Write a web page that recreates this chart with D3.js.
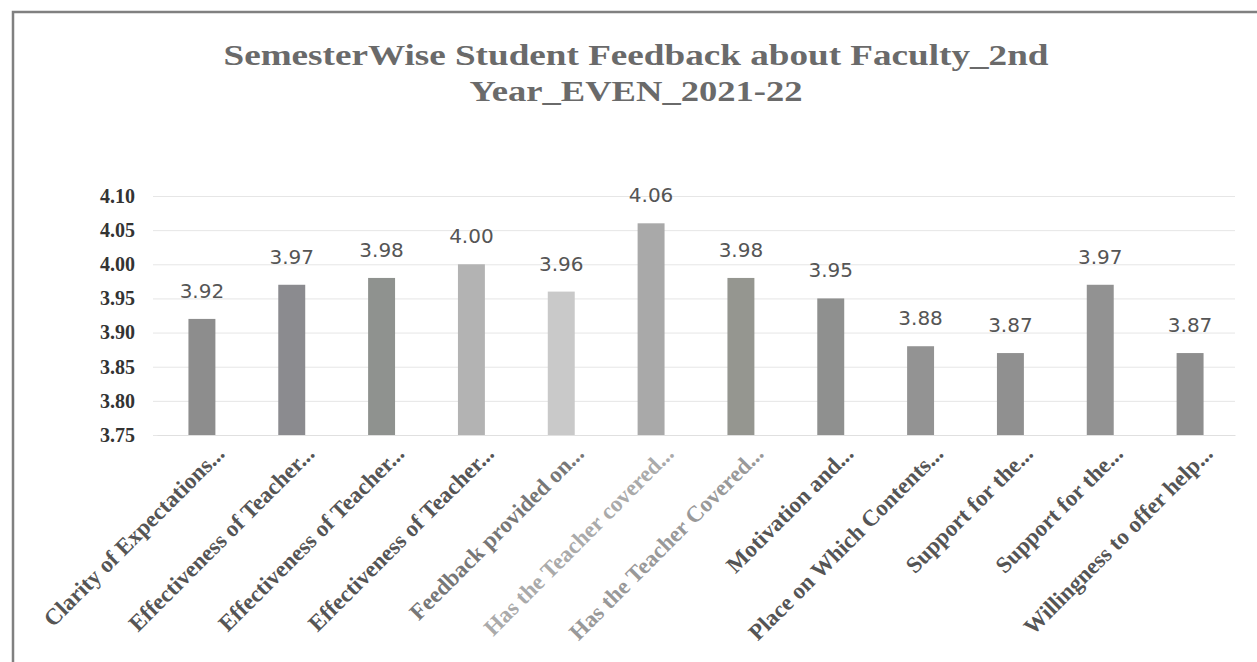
<!DOCTYPE html>
<html>
<head>
<meta charset="utf-8">
<script src="https://cdn.jsdelivr.net/npm/d3@7"></script>
<style>
  body { margin: 0; background: #fff; }
</style>
</head>
<body>
<svg></svg>
<script>
const categories = [
    "Clarity of Expectations...",
    "Effectiveness of Teacher...",
    "Effectiveness of Teacher...",
    "Effectiveness of Teacher...",
    "Feedback provided on...",
    "Has the Teacher covered...",
    "Has the Teacher Covered...",
    "Motivation and...",
    "Place on Which Contents...",
    "Support for the...",
    "Support for the...",
    "Willingness to offer help..."
];
const values = [3.92, 3.97, 3.98, 4.00, 3.96, 4.06, 3.98, 3.95, 3.88, 3.87, 3.97, 3.87];
const yTicks = [3.75, 3.80, 3.85, 3.90, 3.95, 4.00, 4.05, 4.10];
const titleLines = ["SemesterWise Student Feedback about Faculty_2nd", "Year_EVEN_2021-22"];

// scanned look: bars and labels are not all the same grey
const barColors = ["#8d8d8d", "#8b8b8f", "#8f928f", "#b3b3b3", "#c9c9c9", "#a9a9a9",
                   "#959690", "#8f908f", "#939393", "#909090", "#929292", "#8e8e8e"];
const labelColors = ["#555", "#555", "#555", "#555", "#777", "#aaa",
                     "#999", "#555", "#555", "#555", "#555", "#555"];

const width = 1257, height = 662;

const svg = d3.select("svg")
    .attr("width", width)
    .attr("height", height);

// frame (only top and left edges are in view)
svg.append("path")
    .attr("d", "M13," + height + "V12H" + width)
    .attr("fill", "none")
    .attr("stroke", "#808080")
    .attr("stroke-width", 2.5);

// title
svg.append("g").selectAll("text")
    .data(titleLines)
    .enter().append("text")
    .attr("x", 636)
    .attr("y", function(d, i) { return 65 + i * 36; })
    .attr("text-anchor", "middle")
    .attr("textLength", function(d, i) { return i === 0 ? 825 : 333; })
    .attr("lengthAdjust", "spacingAndGlyphs")
    .style("font-family", "'Liberation Serif', serif")
    .style("font-weight", "bold")
    .style("font-size", "29px")
    .style("fill", "#6a6a6a")
    .text(function(d) { return d; });

const x = d3.scaleBand()
    .domain(d3.range(categories.length))
    .range([157, 1235])
    .paddingInner(0.7)
    .paddingOuter(0.35);

const y = d3.scaleLinear()
    .domain([3.75, 4.10])
    .range([435, 196]);

// gridlines
svg.append("g")
    .attr("transform", "translate(153,0)")
    .call(d3.axisLeft(y).tickValues(yTicks).tickSize(-(1235 - 153)).tickFormat(""))
    .call(function(g) { g.select(".domain").remove(); })
    .call(function(g) { g.selectAll("line").attr("stroke", "#e6e6e6"); });

// y axis labels
svg.append("g")
    .attr("transform", "translate(157,0)")
    .call(d3.axisLeft(y).tickValues(yTicks).tickSize(0).tickPadding(22).tickFormat(d3.format(".2f")))
    .call(function(g) { g.select(".domain").remove(); })
    .call(function(g) {
        g.selectAll("text")
            .style("font-family", "'Liberation Serif', serif")
            .style("font-weight", "bold")
            .style("font-size", "20px")
            .style("fill", "#333");
    });

// bars
svg.append("g").selectAll("rect")
    .data(values)
    .enter().append("rect")
    .attr("x", function(d, i) { return x(i); })
    .attr("y", function(d) { return y(d); })
    .attr("width", x.bandwidth())
    .attr("height", function(d) { return y(3.75) - y(d); })
    .attr("fill", function(d, i) { return barColors[i]; });

// value labels
svg.append("g").selectAll("text")
    .data(values)
    .enter().append("text")
    .attr("x", function(d, i) { return x(i) + x.bandwidth() / 2; })
    .attr("y", function(d) { return y(d) - 21; })
    .attr("text-anchor", "middle")
    .style("font-family", "'DejaVu Sans', sans-serif")
    .style("font-size", "20px")
    .style("fill", "#555")
    .text(function(d) { return d3.format(".2f")(d); });

// x axis, rotated category labels
svg.append("g")
    .attr("transform", "translate(0,435)")
    .call(d3.axisBottom(x).tickSize(0).tickFormat(function(i) { return categories[i]; }))
    .call(function(g) { g.select(".domain").attr("stroke", "#e0e0e0"); })
    .call(function(g) {
        g.selectAll("text")
            .attr("x", 0)
            .attr("y", 0)
            .attr("dy", 0)
            .attr("text-anchor", "end")
            .attr("transform", "translate(24,20) rotate(-45)")
            .style("font-family", "'Liberation Serif', serif")
            .style("font-weight", "bold")
            .style("font-size", "23px")
            .style("fill", function(i) { return labelColors[i]; });
    });
</script>
</body>
</html>
